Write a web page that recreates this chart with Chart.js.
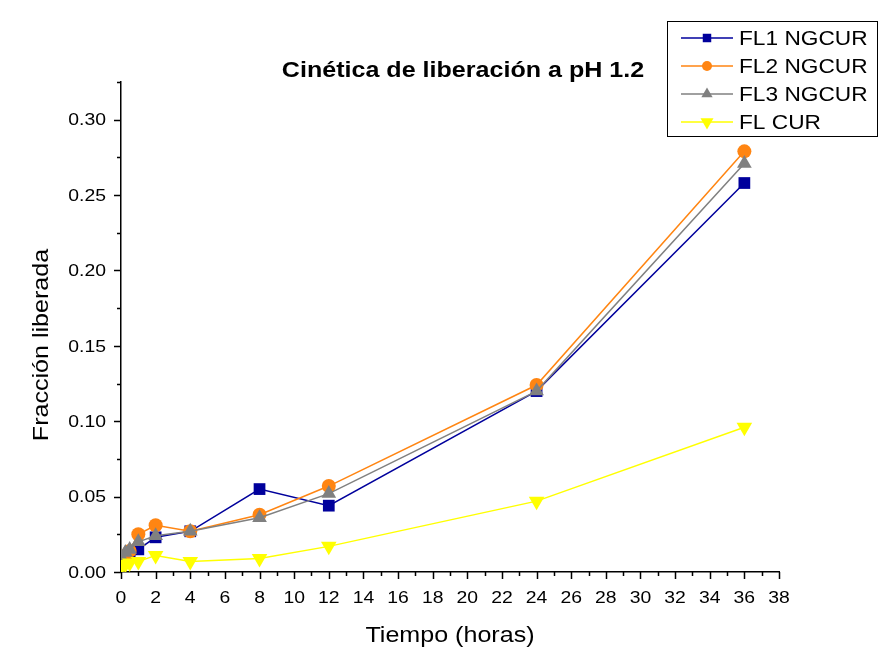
<!DOCTYPE html>
<html lang="es">
<head>
<meta charset="UTF-8" />
<title>Cinética de liberación a pH 1.2</title>
<script src="https://cdn.jsdelivr.net/npm/chart.js@4.4.1/dist/chart.umd.min.js"></script>
<style>
  html, body { margin: 0; padding: 0; background: #fff; }
  #wrap { width: 880px; height: 651px; }
</style>
</head>
<body>
<div id="wrap"><canvas id="myChart" width="880" height="651"></canvas></div>
<script>
const tiempo = [0, 0.25, 0.5, 1, 2, 4, 8, 12, 24, 36];
const fl1 = [0.008, 0.010, 0.011, 0.015, 0.023, 0.027, 0.055, 0.044, 0.120, 0.258];
const fl2 = [0.009, 0.011, 0.014, 0.025, 0.031, 0.027, 0.038, 0.057, 0.124, 0.279];
const fl3 = [0.010, 0.013, 0.015, 0.020, 0.024, 0.027, 0.036, 0.052, 0.120, 0.271];
const flCur = [0.003, 0.005, 0.006, 0.007, 0.011, 0.007, 0.009, 0.017, 0.047, 0.096];
const xTicks = [0, 2, 4, 6, 8, 10, 12, 14, 16, 18, 20, 22, 24, 26, 28, 30, 32, 34, 36, 38];
const yTicks = [0, 0.05, 0.10, 0.15, 0.20, 0.25, 0.30];

const font = "Arial, 'Liberation Sans', sans-serif";
const stretch = 1.14; // el texto original es algo más ancho

function serie(label, values, color, style, radius, legendRadius, rotation, order) {
  return {
    label: label,
    data: tiempo.map((t, i) => ({ x: t, y: values[i] })),
    borderColor: color,
    backgroundColor: color,
    borderWidth: 1.5,
    pointStyle: style,
    pointRadius: radius,
    pointBorderWidth: 0,
    pointRotation: rotation,
    legendRadius: legendRadius,
    order: order,
    tension: 0,
  };
}

const datasets = [
  serie("FL1 NGCUR", fl1, "#00009c", "rect", 8.3, 6, 0, 3),
  serie("FL2 NGCUR", fl2, "#ff8512", "circle", 7, 5, 0, 2),
  serie("FL3 NGCUR", fl3, "#808080", "triangle", 8.5, 6.5, 0, 1),
  serie("FL CUR", flCur, "#ffff00", "triangle", 9, 7.5, 180, 0),
];

function text(ctx, str, x, y, align, rot, sx) {
  ctx.save();
  ctx.translate(x, y);
  if (rot) ctx.rotate(rot);
  ctx.scale(sx || stretch, 1);
  ctx.textAlign = align;
  ctx.fillText(str, 0, 0);
  ctx.restore();
}

// ticks hacia fuera, etiquetas, títulos y leyenda
const decor = {
  id: "decor",
  afterDraw(chart) {
    const { ctx, chartArea, scales } = chart;
    const xs = scales.x, ys = scales.y;
    ctx.save();
    ctx.strokeStyle = "#000";
    ctx.lineWidth = 1.5;
    ctx.beginPath();
    for (let v = 0; v <= 38; v++) {
      const px = Math.round(xs.getPixelForValue(v)) + 0.5;
      const len = v % 2 === 0 ? 7 : 4;
      ctx.moveTo(px, chartArea.bottom);
      ctx.lineTo(px, chartArea.bottom + len);
    }
    for (let k = 0; k <= 13; k++) {
      const py = Math.round(ys.getPixelForValue(k * 0.025)) + 0.5;
      const len = k % 2 === 0 ? 7 : 4;
      ctx.moveTo(chartArea.left, py);
      ctx.lineTo(chartArea.left - len, py);
    }
    ctx.stroke();

    ctx.fillStyle = "#000";
    ctx.textBaseline = "middle";
    ctx.font = "17px " + font;
    xTicks.forEach((v) => text(ctx, String(v), xs.getPixelForValue(v), chartArea.bottom + 26, "center"));
    yTicks.forEach((v) => text(ctx, v.toFixed(2), chartArea.left - 15, ys.getPixelForValue(v) + 1, "right"));

    ctx.textBaseline = "alphabetic";
    ctx.font = "bold 22px " + font;
    text(ctx, "Cinética de liberación a pH 1.2", 463, 77, "center");

    ctx.font = "22px " + font;
    text(ctx, "Tiempo (horas)", 450, 642, "center");
    text(ctx, "Fracción liberada", 48, 345, "center", -Math.PI / 2);

    // leyenda
    ctx.strokeStyle = "#000";
    ctx.lineWidth = 1;
    ctx.strokeRect(667.5, 21.5, 210, 115);
    const rows = [38, 66, 94, 122];
    chart.data.datasets.forEach((ds, i) => {
      const y = rows[i];
      ctx.strokeStyle = ds.borderColor;
      ctx.lineWidth = 1.5;
      ctx.beginPath();
      ctx.moveTo(681, y);
      ctx.lineTo(733, y);
      ctx.stroke();
      ctx.fillStyle = ds.backgroundColor;
      Chart.helpers.drawPoint(ctx, {
        pointStyle: ds.pointStyle,
        radius: ds.legendRadius,
        rotation: ds.pointRotation,
        borderWidth: 0,
      }, 707, y);
      ctx.fillStyle = "#000";
      ctx.font = "21px " + font;
      ctx.textBaseline = "middle";
      text(ctx, ds.label, 739, y + 1, "left", 0, 1.08);
    });
    ctx.restore();
  },
};

new Chart(document.getElementById("myChart"), {
  type: "line",
  data: { datasets: datasets },
  options: {
    responsive: false,
    animation: false,
    layout: { padding: { left: 0, top: 82, right: 101, bottom: 0 } },
    plugins: { legend: { display: false }, tooltip: { enabled: false } },
    scales: {
      x: {
        type: "linear",
        min: 0,
        max: 38,
        afterFit: (s) => { s.height = 79; },
        grid: { display: false },
        border: { display: true, color: "#000", width: 1.5 },
        ticks: { display: false, stepSize: 2 },
      },
      y: {
        min: 0,
        max: 0.325,
        afterFit: (s) => { s.width = 121; },
        grid: { display: false },
        border: { display: true, color: "#000", width: 1.5 },
        ticks: { display: false, stepSize: 0.05 },
      },
    },
  },
  plugins: [decor],
});
</script>
</body>
</html>
